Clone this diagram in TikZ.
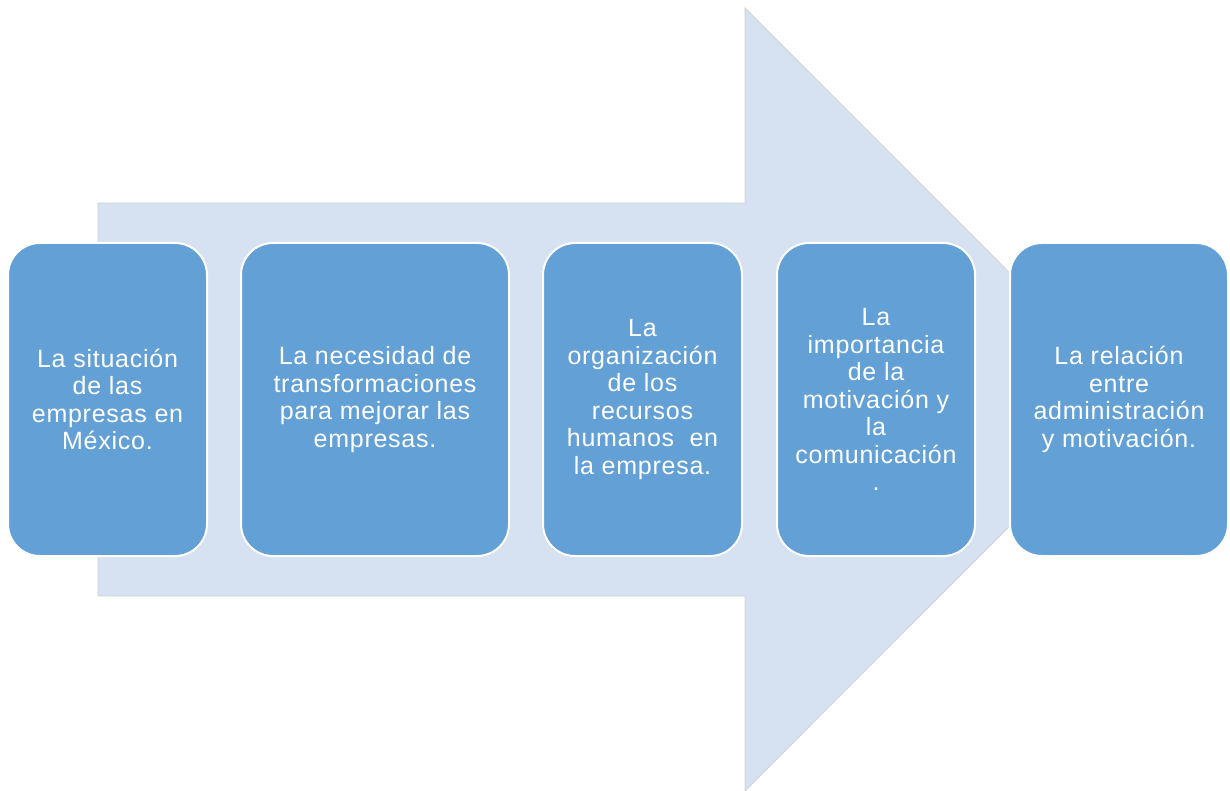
\documentclass[tikz,border=0pt]{standalone}
\usepackage{fontspec}
\setmainfont[LetterSpace=3]{Liberation Sans}
\usepackage{xcolor}
\usetikzlibrary{positioning}
\definecolor{arrowbg}{HTML}{D6E2F1}
\definecolor{arrowedge}{HTML}{CDD3DB}
\definecolor{boxfill}{HTML}{62A0D6}
\definecolor{boxtext}{HTML}{FFFFFF}
\tikzset{
  bigarrow/.style={fill=arrowbg, draw=arrowedge, line width=0.8pt, line join=miter},
  stage/.style={rectangle, rounded corners=32pt, fill=boxfill, draw=white, line width=2pt,
    minimum height=313pt, inner sep=0pt, outer sep=0pt, align=center, text=boxtext,
    font=\fontsize{25}{27.5}\selectfont},
}

\begin{document}
\begin{tikzpicture}[x=1pt,y=-1pt]
  \useasboundingbox (0,0) rectangle (1230,791);
  % background arrow
  \draw[bigarrow] (98,203) -- (745,203) -- (745,8) -- (1136,399.5) -- (745,791)
    -- (745,596) -- (98,596) -- cycle;
  % stages
  \node[stage, minimum width=199pt] (sit) at (107.5,399.5)
    {La situación\\de las\\empresas en\\México.};
  \node[stage, minimum width=268pt, right=34pt of sit] (nec)
    {La necesidad de\\transformaciones\\para mejorar las\\empresas.};
  \node[stage, minimum width=199pt, right=34pt of nec] (org)
    {La\\organización\\de los\\recursos\\humanos\ \ en\\la empresa.};
  \node[stage, minimum width=198pt, right=35pt of org] (mot)
    {La\\importancia\\de la\\motivación y\\la\\comunicación\\.};
  \node[stage, minimum width=218pt, right=35pt of mot] (rel)
    {La relación\\entre\\administración\\y motivación.};
\end{tikzpicture}
\end{document}
